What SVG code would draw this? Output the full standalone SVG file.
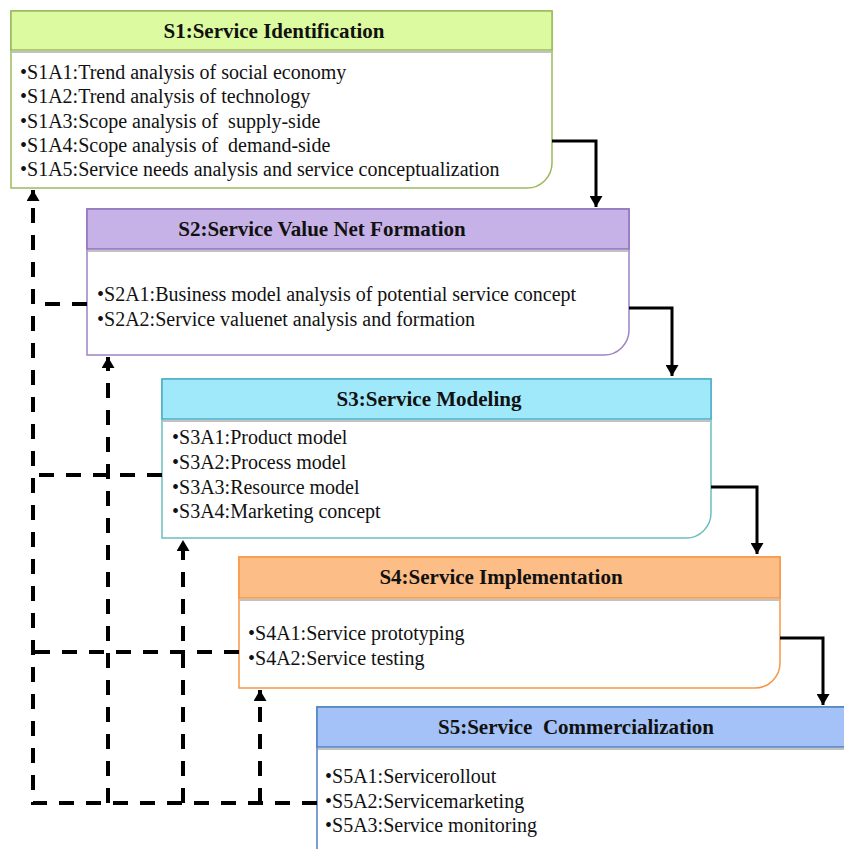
<svg xmlns="http://www.w3.org/2000/svg" width="844" height="849" viewBox="0 0 844 849">
<defs>
<style>
.title{font-family:"Liberation Serif","Times New Roman",serif;font-weight:bold;font-size:21px;fill:#111;text-anchor:middle;white-space:pre}
.item{font-family:"Liberation Serif","Times New Roman",serif;font-size:20px;fill:#111;white-space:pre}
.solid{fill:none;stroke:#000;stroke-width:3;marker-end:url(#ah)}
.dash{fill:none;stroke:#000;stroke-width:4;stroke-dasharray:15 12}
.dasharr{fill:none;stroke:#000;stroke-width:4;stroke-dasharray:15 12;marker-end:url(#ah2)}
.body{fill:#fff;stroke-width:1.5}
.hshadow{stroke:#999;stroke-width:2;opacity:0.6}
</style>
<marker id="ah" markerUnits="userSpaceOnUse" markerWidth="14" markerHeight="13" refX="11" refY="6.5" orient="auto" viewBox="0 0 12 13">
<path d="M0,0 L11,6.5 L0,13 Z" fill="#000"/>
</marker>
<marker id="ah2" markerUnits="userSpaceOnUse" markerWidth="14" markerHeight="13" refX="11" refY="6.5" orient="auto" viewBox="0 0 12 13">
<path d="M0,0 L11,6.5 L0,13 Z" fill="#000"/>
</marker>
</defs>
<rect width="844" height="849" fill="#fff"/>

<g id="S1">
<path class="body" d="M11,11 H552 V163 A25,25 0 0 1 527,188 H11 Z" stroke="#9BBB59"/>
<line class="hshadow" x1="12" y1="52" x2="551" y2="52"/>
<rect x="11" y="11" width="541" height="39" fill="#DCFAA0" stroke="#9BBB59" stroke-width="1.5"/>
<text class="title" x="274" y="38">S1:Service Identification</text>
<text class="item" x="20" y="79">•S1A1:Trend analysis of social economy</text>
<text class="item" x="20" y="103">•S1A2:Trend analysis of technology</text>
<text class="item" x="20" y="128">•S1A3:Scope analysis of  supply-side</text>
<text class="item" x="20" y="152">•S1A4:Scope analysis of  demand-side</text>
<text class="item" x="20" y="176">•S1A5:Service needs analysis and service conceptualization</text>
</g>

<g id="S2">
<path class="body" d="M87,209 H629 V330 A25,25 0 0 1 604,355 H87 Z" stroke="#9E83C6"/>
<line class="hshadow" x1="88" y1="251" x2="628" y2="251"/>
<rect x="87" y="209" width="542" height="40" fill="#C6B2E6" stroke="#8E72BA" stroke-width="1.5"/>
<text class="title" x="322" y="236">S2:Service Value Net Formation</text>
<text class="item" x="97" y="301">•S2A1:Business model analysis of potential service concept</text>
<text class="item" x="97" y="326">•S2A2:Service valuenet analysis and formation</text>
</g>

<g id="S3">
<path class="body" d="M162,379 H711 V513 A25,25 0 0 1 686,538 H162 Z" stroke="#6ABFBF"/>
<line class="hshadow" x1="163" y1="421" x2="710" y2="421"/>
<rect x="162" y="379" width="549" height="40" fill="#9FE9FB" stroke="#4BACC6" stroke-width="1.5"/>
<text class="title" x="429" y="406">S3:Service Modeling</text>
<text class="item" x="172" y="444">•S3A1:Product model</text>
<text class="item" x="172" y="469">•S3A2:Process model</text>
<text class="item" x="172" y="494">•S3A3:Resource model</text>
<text class="item" x="172" y="518">•S3A4:Marketing concept</text>
</g>

<g id="S4">
<path class="body" d="M239,557 H780 V663 A25,25 0 0 1 755,688 H239 Z" stroke="#F79646"/>
<line class="hshadow" x1="240" y1="600" x2="779" y2="600"/>
<rect x="239" y="557" width="541" height="41" fill="#FDBD86" stroke="#F79646" stroke-width="1.5"/>
<text class="title" x="501" y="584">S4:Service Implementation</text>
<text class="item" x="248" y="640">•S4A1:Service prototyping</text>
<text class="item" x="248" y="665">•S4A2:Service testing</text>
</g>

<g id="S5">
<path class="body" d="M317,707 H860 V860 H317 Z" stroke="#4F81BD"/>
<line class="hshadow" x1="318" y1="749" x2="844" y2="749"/>
<rect x="317" y="707" width="543" height="40" fill="#A4C2F7" stroke="#4F81BD" stroke-width="1.5"/>
<text class="title" x="576" y="734">S5:Service  Commercialization</text>
<text class="item" x="325" y="783">•S5A1:Servicerollout</text>
<text class="item" x="325" y="808">•S5A2:Servicemarketing</text>
<text class="item" x="325" y="832">•S5A3:Service monitoring</text>
</g>

<g id="connectors">
<path class="solid" d="M552,141 H596 V207"/>
<path class="solid" d="M629,308 H672 V376"/>
<path class="solid" d="M711,487 H757 V554"/>
<path class="solid" d="M780,638 H823 V705"/>
<path class="dasharr" d="M317,803 H33 V190"/>
<path class="dash" d="M87,304 H33"/>
<path class="dash" d="M162,475 H33"/>
<path class="dash" d="M239,652 H33"/>
<path class="dasharr" d="M108,803 V357"/>
<path class="dasharr" d="M183,803 V540"/>
<path class="dasharr" d="M260,803 V690"/>
</g>
</svg>
